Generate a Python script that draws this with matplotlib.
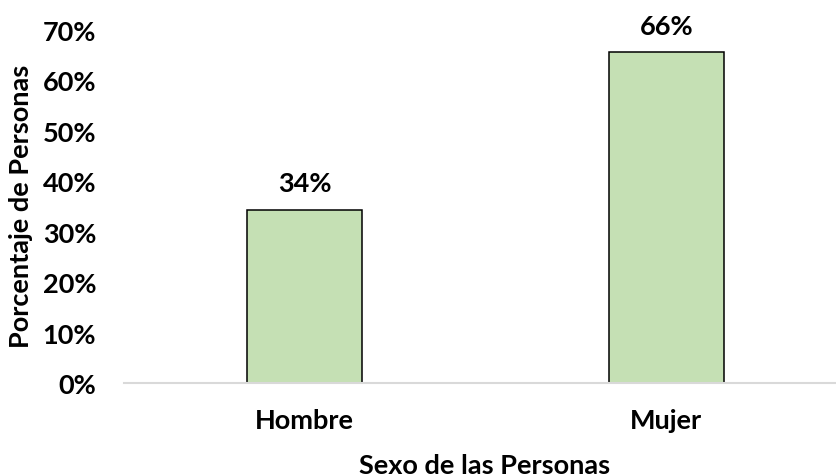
import matplotlib
matplotlib.use("Agg")
import matplotlib.pyplot as plt
from matplotlib.ticker import PercentFormatter

categories = ["Hombre", "Mujer"]
values = [0.344, 0.656]
value_labels = ["34%", "66%"]
yticks = [0.0, 0.1, 0.2, 0.3, 0.4, 0.5, 0.6, 0.7]

plt.rcParams['font.family'] = ['Lato', 'DejaVu Sans']
plt.rcParams['font.weight'] = 'bold'
FS = 19.5

W, H = 836, 477
fig = plt.figure(figsize=(W / 100, H / 100), dpi=100)
left, right, top, bottom = 124, 836, 31, 384
ax = fig.add_axes([left / W, (H - bottom) / H, (right - left) / W, (bottom - top) / H])

x = list(range(len(categories)))
ax.bar(x, values, width=0.318, color="#C5E0B4", edgecolor="black", linewidth=1.1, zorder=3)

for xi, v, lab in zip(x, values, value_labels):
    ax.annotate(lab, (xi, v), xytext=(0, 13), textcoords="offset points",
                ha="center", va="baseline", fontsize=FS, fontweight="bold")

ax.set_xlim(-0.5, -0.5 + (right - left) / 361.5)
ax.set_ylim(0, 0.70)
ax.set_yticks(yticks)
ax.yaxis.set_major_formatter(PercentFormatter(1.0, decimals=0))
ax.set_xticks(x)
ax.set_xticklabels(categories)
ax.tick_params(axis="y", length=0, pad=20, labelsize=FS)
ax.tick_params(axis="x", length=0, pad=18, labelsize=FS)
for lbl in ax.get_xticklabels() + ax.get_yticklabels():
    lbl.set_fontweight("bold")

for s in ["left", "right", "top"]:
    ax.spines[s].set_visible(False)
ax.spines["bottom"].set_color("#D9D9D9")
ax.spines["bottom"].set_linewidth(1.5)
ax.spines["bottom"].set_zorder(4)

fig.text(21 / W, 1 - 206 / H, "Porcentaje de Personas", rotation=90,
         ha="center", va="center", fontsize=FS, fontweight="bold")
fig.text(485 / W, 1 - 466 / H, "Sexo de las Personas",
         ha="center", va="center", fontsize=FS, fontweight="bold")

fig.savefig("out.png", dpi=100)
